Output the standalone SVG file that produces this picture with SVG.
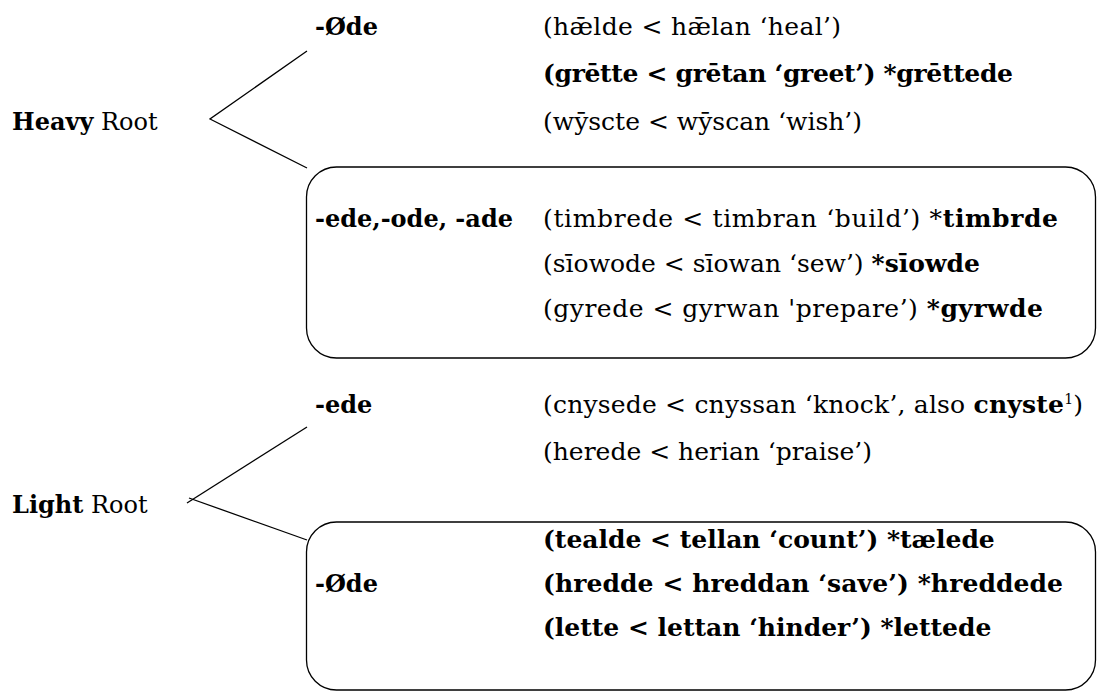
<svg xmlns="http://www.w3.org/2000/svg" width="1098" height="692" viewBox="0 0 1098 692">
<style>
text{font-family:"DejaVu Serif","Liberation Serif",serif;font-size:24px;fill:#000}
text.r{font-size:25px}
.b{font-weight:bold}
.ln{stroke:#000;stroke-width:1.3;fill:none}
.box{stroke:#000;stroke-width:1.3;fill:none}
</style>
<rect width="1098" height="692" fill="#fff"/>
<g id="connectors">
<path class="ln" d="M307,51 L210,119 L307,168"/>
<path class="ln" d="M307,427 L187,503"/>
<path class="ln" d="M189,498 L307,540"/>
</g>
<g id="heavy-root"><text x="12" y="130"><tspan class="b">Heavy</tspan> Root</text></g>
<g id="heavy-zero">
<text x="315" y="35" class="b">-Øde</text>
<text class="r" x="543" y="35" textLength="298" lengthAdjust="spacing">(hǣlde &lt; hǣlan ‘heal’)</text>
<text class="r b" x="543" y="82" textLength="470" lengthAdjust="spacing">(grētte &lt; grētan ‘greet’) *grēttede</text>
<text class="r" x="543" y="130">(wȳscte &lt; wȳscan ‘wish’)</text>
</g>
<g id="heavy-ede">
<rect class="box" x="306.5" y="167" width="789" height="191" rx="30" ry="30"/>
<text x="315" y="227" class="b">-ede,-ode, -ade</text>
<text class="r" x="543" y="227" textLength="515" lengthAdjust="spacing">(timbrede &lt; timbran ‘build’) *<tspan class="b">timbrde</tspan></text>
<text class="r" x="543" y="272">(sīowode &lt; sīowan ‘sew’) <tspan class="b">*sīowde</tspan></text>
<text class="r" x="543" y="317" textLength="500" lengthAdjust="spacing">(gyrede &lt; gyrwan 'prepare’) <tspan class="b">*gyrwde</tspan></text>
</g>
<g id="light-root"><text x="12" y="513"><tspan class="b">Light</tspan> Root</text></g>
<g id="light-ede">
<text x="315" y="413" class="b">-ede</text>
<text class="r" x="543" y="413" textLength="540" lengthAdjust="spacing">(cnysede &lt; cnyssan ‘knock’, also <tspan class="b">cnyste</tspan><tspan font-size="14" dy="-9">1</tspan><tspan dy="9">)</tspan></text>
<text class="r" x="543" y="460">(herede &lt; herian ‘praise’)</text>
</g>
<g id="light-zero">
<rect class="box" x="306.5" y="522" width="789" height="168" rx="30" ry="30"/>
<text x="315" y="592" class="b">-Øde</text>
<text class="r b" x="543" y="548">(tealde &lt; tellan ‘count’) *tælede</text>
<text class="r b" x="543" y="592" textLength="520" lengthAdjust="spacing">(hredde &lt; hreddan ‘save’) *hreddede</text>
<text class="r b" x="543" y="636">(lette &lt; lettan ‘hinder’) *lettede</text>
</g>
</svg>
